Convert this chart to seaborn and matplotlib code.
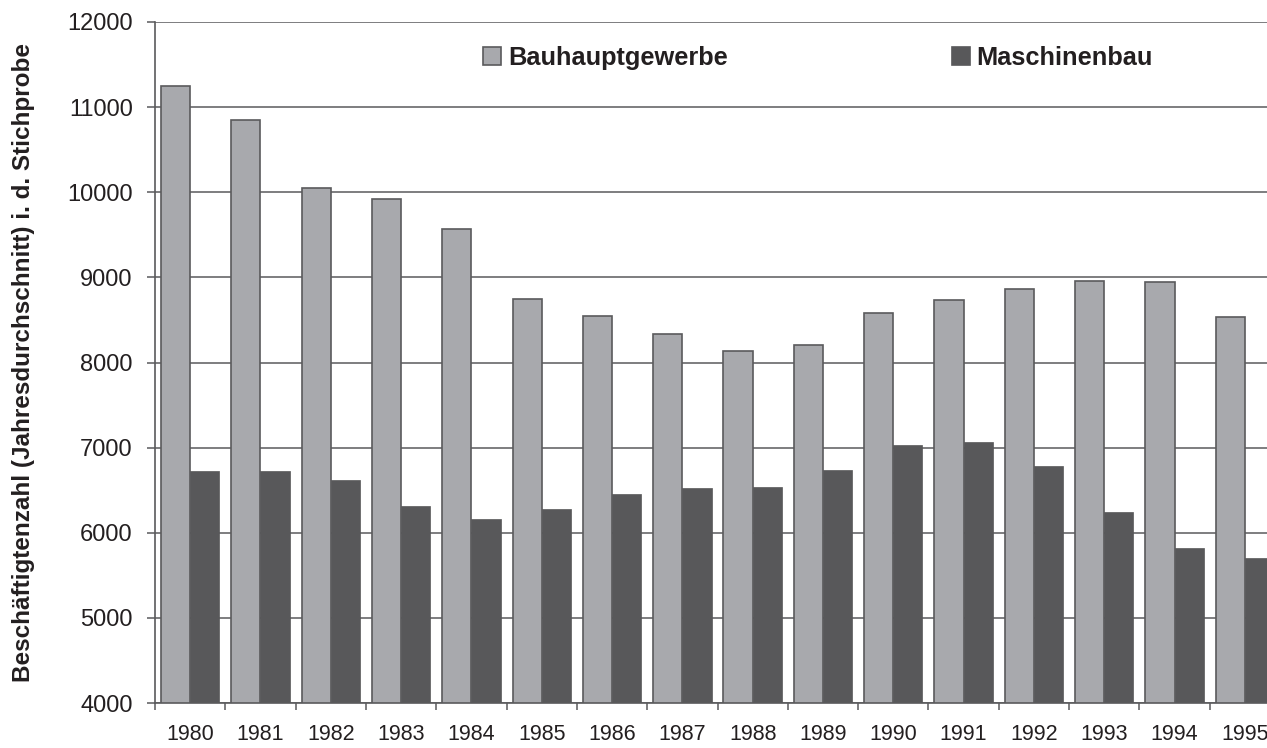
import numpy as np
import pandas as pd
import matplotlib
matplotlib.use('Agg')
import matplotlib.pyplot as plt
import seaborn as sns
from matplotlib.ticker import FixedLocator

# Jahre und Beschaeftigtenzahlen
years = [str(y) for y in range(1980, 1996)]
bauhaupt = [11250, 10850, 10050, 9920, 9570, 8750, 8550, 8340,
            8140, 8210, 8580, 8740, 8860, 8960, 8950, 8540]
maschinenbau = [6730, 6730, 6620, 6310, 6160, 6280, 6460, 6520,
                6540, 6740, 7030, 7070, 6780, 6240, 5820, 5700]
series_names = ['Bauhauptgewerbe', 'Maschinenbau']
yticks = [4000, 5000, 6000, 7000, 8000, 9000, 10000, 11000, 12000]

df = pd.DataFrame({'Jahr': years, series_names[0]: bauhaupt, series_names[1]: maschinenbau})
df_long = df.melt(id_vars='Jahr', var_name='Branche', value_name='Wert')

sns.set_theme(style='white')
plt.rcParams['font.family'] = ['Liberation Sans', 'DejaVu Sans']

colors = {'Bauhauptgewerbe': '#a8a9ad', 'Maschinenbau': '#58585a'}
line_col = '#5a5a5c'
text_col = '#231f20'

fig = plt.figure(figsize=(12.67, 7.48), dpi=100)
# axes reach past the right edge, like the cropped original
ax = fig.add_axes([155 / 1267, 45 / 748, 1125 / 1267, 681 / 748])

sns.barplot(data=df_long, x='Jahr', y='Wert', hue='Branche', palette=colors,
            width=0.83, saturation=1, ax=ax, legend=False)

for bar in ax.containers[0]:
    bar.set_edgecolor(line_col)
    bar.set_linewidth(1.2)
for bar in ax.containers[1]:
    bar.set_edgecolor(colors['Maschinenbau'])
    bar.set_linewidth(0.5)

ax.set_ylim(4000, 12000)
ax.set_xlim(-0.5, 15.5)
ax.set_yticks(yticks)
ax.yaxis.grid(True, color=line_col, linewidth=1.1)
ax.set_axisbelow(True)

for side in ['top', 'right']:
    ax.spines[side].set_visible(False)
for side in ['left', 'bottom']:
    ax.spines[side].set_color(line_col)
    ax.spines[side].set_linewidth(1.2)

ax.tick_params(axis='y', which='major', left=True, length=6, width=1.1, color=line_col,
               pad=10, labelsize=17, labelcolor=text_col)
ax.tick_params(axis='x', which='major', bottom=False, length=0, pad=15,
               labelsize=15.5, labelcolor=text_col)
ax.xaxis.set_minor_locator(FixedLocator(np.arange(-0.5, 16, 1)))
ax.tick_params(axis='x', which='minor', bottom=True, length=5, width=1.1, color=line_col)

ax.set_xlabel('')
ax.set_ylabel('Beschäftigtenzahl (Jahresdurchschnitt) i. d. Stichprobe',
              fontsize=17.5, fontweight='bold', color=text_col)
ax.yaxis.set_label_coords(-0.107, 0.5)

handles = [plt.Rectangle((0, 0), 1, 1, facecolor=colors[n],
                         edgecolor=line_col if i == 0 else colors[n], linewidth=1.2)
           for i, n in enumerate(series_names)]
leg = fig.legend(handles, series_names, loc='center left',
                 bbox_to_anchor=(483 / 1267, 1 - 58 / 748), ncol=2, frameon=False,
                 borderpad=0, borderaxespad=0, handlelength=0.71, handleheight=0.71,
                 handletextpad=0.28, columnspacing=8.8,
                 prop={'size': 18.3, 'weight': 'bold'})
for t in leg.get_texts():
    t.set_color(text_col)

fig.savefig('out.png', dpi=100)
plt.close(fig)
